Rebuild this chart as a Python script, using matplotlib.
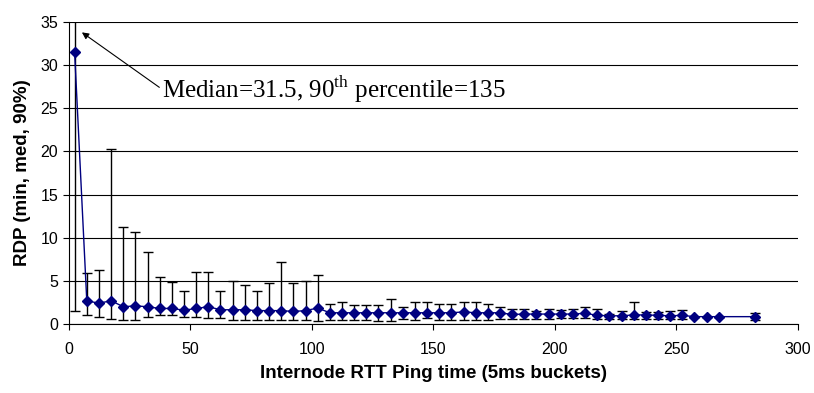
import matplotlib
matplotlib.use("Agg")
import matplotlib.pyplot as plt
import numpy as np

# bucket centres (ms) and RDP stats per bucket
rtt = [2.5, 7.5, 12.5, 17.5, 22.5, 27.5, 32.5, 37.5, 42.5, 47.5,
       52.5, 57.5, 62.5, 67.5, 72.5, 77.5, 82.5, 87.5, 92.5, 97.5,
       102.5, 107.5, 112.5, 117.5, 122.5, 127.5, 132.5, 137.5, 142.5, 147.5,
       152.5, 157.5, 162.5, 167.5, 172.5, 177.5, 182.5, 187.5, 192.5, 197.5,
       202.5, 207.5, 212.5, 217.5, 222.5, 227.5, 232.5, 237.5, 242.5, 247.5,
       252.5, 257.5, 262.5, 267.5, 282.5]
rdp_med = [31.5, 2.7, 2.4, 2.7, 2.0, 2.1, 2.0, 1.8, 1.8, 1.6,
           1.8, 2.0, 1.65, 1.65, 1.65, 1.55, 1.55, 1.55, 1.45, 1.55,
           1.85, 1.3, 1.3, 1.3, 1.3, 1.3, 1.3, 1.3, 1.3, 1.3,
           1.3, 1.3, 1.4, 1.3, 1.3, 1.3, 1.1, 1.15, 1.15, 1.15,
           1.15, 1.15, 1.25, 1.0, 0.95, 0.95, 1.05, 1.05, 1.0, 0.95,
           1.0, 0.85, 0.85, 0.85, 0.85]
rdp_min = [1.5, 1.0, 0.8, 0.6, 0.5, 0.5, 0.8, 1.0, 1.0, 0.85,
           0.85, 0.65, 0.65, 0.5, 0.5, 0.5, 0.5, 0.5, 0.5, 0.5,
           0.3, 0.45, 0.45, 0.45, 0.45, 0.3, 0.3, 0.6, 0.45, 0.7,
           0.45, 0.45, 0.45, 0.45, 0.45, 0.6, 0.6, 0.6, 0.6, 0.6,
           0.75, 0.75, 0.75, 0.6, 0.6, 0.6, 0.6, 0.6, 0.6, 0.6,
           0.6, 0.85, 0.85, 0.85, 0.5]
rdp_90 = [135, 5.9, 6.2, 20.3, 11.2, 10.7, 8.3, 5.5, 4.85, 3.8,
          6.0, 6.0, 3.8, 5.0, 4.5, 3.8, 4.7, 7.2, 4.7, 5.0,
          5.7, 2.3, 2.6, 2.2, 2.2, 2.2, 2.95, 2.0, 2.6, 2.5,
          2.3, 2.3, 2.5, 2.5, 2.3, 2.0, 1.7, 1.7, 1.55, 1.7,
          1.6, 1.7, 2.0, 1.7, 1.1, 1.55, 2.5, 1.4, 1.4, 1.55,
          1.6, 0.85, 0.85, 0.85, 1.25]

plt.rcParams['font.family'] = ['Liberation Sans', 'DejaVu Sans']
plt.rcParams['mathtext.fontset'] = 'custom'
plt.rcParams['mathtext.rm'] = 'Liberation Serif'

med = np.array(rdp_med)
yerr = [med - np.array(rdp_min), np.array(rdp_90) - med]

fig = plt.figure(figsize=(8.14, 3.93), dpi=100)
ax = fig.add_axes([0.0842, 0.1756, 0.8958, 0.7684])

ax.errorbar(rtt, med, yerr=yerr, fmt='none', ecolor='black',
            elinewidth=1.0, capsize=3.6, capthick=1.0, zorder=2)
ax.plot(rtt, med, color='#000080', lw=1.0, marker='D', markersize=5.5,
        markerfacecolor='#000080', markeredgecolor='#000080', zorder=3)

ax.set_xlim(0, 300)
ax.set_ylim(0, 35)
ax.set_xticks(range(0, 301, 50))
ax.set_yticks(range(0, 36, 5))
ax.yaxis.grid(True, color='black', lw=0.8)
ax.set_axisbelow(True)
for s in ['top', 'right']:
    ax.spines[s].set_visible(False)
ax.tick_params(direction='out', length=4, labelsize=11.5, color='black')
ax.tick_params(axis='x', pad=9)

ax.set_xlabel('Internode RTT Ping time (5ms buckets)', fontweight='bold',
              fontsize=13.5, labelpad=6)
ax.set_ylabel('RDP (min, med, 90%)', fontweight='bold', fontsize=13.5,
              labelpad=7)

ax.annotate(r'Median=31.5, 90$^{\mathrm{th}}$ percentile=135',
            xy=(5.5, 33.8), xytext=(38.5, 27.2),
            fontsize=18, family='Liberation Serif', va='center', ha='left',
            arrowprops=dict(arrowstyle='-|>', color='black', lw=0.8,
                            mutation_scale=10, shrinkA=0, shrinkB=0,
                            relpos=(0, 0.5)))

fig.savefig('out.png', dpi=100)
